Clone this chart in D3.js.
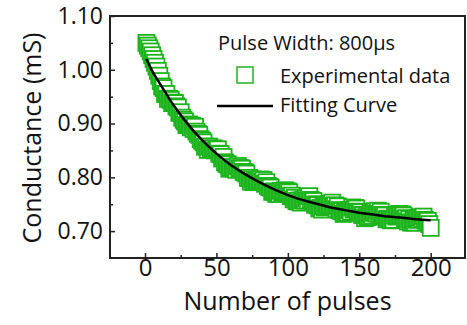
<!DOCTYPE html>
<html>
<head>
<meta charset="utf-8">
<script src="https://cdn.jsdelivr.net/npm/d3@7"></script>
<style>
  body { margin: 0; background: #fff; }
  svg text { font-family: "Open Sans", sans-serif; fill: #111; }
</style>
</head>
<body>
<div id="chart"></div>
<script>
// measured conductance (mS), one value per pulse 1..200
const conductance = [
  1.050, 1.045, 1.040, 1.034, 1.027, 1.020, 1.013, 1.006, 0.998, 0.989,
  0.979, 0.969, 0.966, 0.955, 0.955, 0.946, 0.946, 0.944, 0.938, 0.939,
  0.938, 0.932, 0.930, 0.920, 0.921, 0.911, 0.907, 0.904, 0.897, 0.898,
  0.898, 0.893, 0.896, 0.890, 0.894, 0.885, 0.881, 0.879, 0.871, 0.868,
  0.865, 0.857, 0.857, 0.851, 0.857, 0.852, 0.853, 0.854, 0.850, 0.852,
  0.852, 0.844, 0.843, 0.835, 0.838, 0.828, 0.825, 0.824, 0.816, 0.818,
  0.819, 0.816, 0.818, 0.814, 0.821, 0.817, 0.817, 0.816, 0.810, 0.809,
  0.807, 0.799, 0.799, 0.792, 0.796, 0.791, 0.793, 0.795, 0.792, 0.794,
  0.796, 0.792, 0.795, 0.788, 0.791, 0.784, 0.782, 0.781, 0.773, 0.774,
  0.772, 0.769, 0.772, 0.769, 0.775, 0.772, 0.774, 0.776, 0.773, 0.774,
  0.772, 0.765, 0.766, 0.759, 0.762, 0.756, 0.755, 0.757, 0.753, 0.757,
  0.759, 0.757, 0.761, 0.757, 0.765, 0.758, 0.756, 0.756, 0.749, 0.750,
  0.748, 0.742, 0.743, 0.740, 0.746, 0.744, 0.746, 0.749, 0.747, 0.750,
  0.753, 0.747, 0.748, 0.741, 0.746, 0.739, 0.738, 0.737, 0.732, 0.735,
  0.737, 0.734, 0.739, 0.736, 0.744, 0.740, 0.743, 0.742, 0.736, 0.736,
  0.735, 0.730, 0.730, 0.724, 0.729, 0.726, 0.728, 0.732, 0.729, 0.734,
  0.737, 0.733, 0.738, 0.732, 0.736, 0.730, 0.729, 0.729, 0.722, 0.723,
  0.722, 0.720, 0.723, 0.721, 0.729, 0.727, 0.729, 0.732, 0.730, 0.731,
  0.729, 0.723, 0.724, 0.718, 0.722, 0.716, 0.716, 0.719, 0.716, 0.721,
  0.724, 0.722, 0.726, 0.723, 0.727, 0.721, 0.719, 0.719, 0.713, 0.706
];
const pulses = d3.range(1, conductance.length + 1);

// fitting curve
const fitX = [1, 5, 10, 20, 30, 40, 50, 60, 70, 80, 90, 100, 110, 120, 130, 140, 150, 160, 170, 180, 190, 200];
const fitY = [1.020, 0.998, 0.976, 0.934, 0.899, 0.869, 0.844, 0.823, 0.806, 0.791, 0.778, 0.767, 0.758, 0.751, 0.744, 0.739, 0.734, 0.731, 0.727, 0.725, 0.722, 0.720];

const xTicks = [0, 50, 100, 150, 200];
const xMinor = [25, 75, 125, 175];
const yTicks = [0.70, 0.80, 0.90, 1.00, 1.10];
const yMinor = [0.75, 0.85, 0.95, 1.05];

const titleText = 'Pulse Width: 800\u03bcs';
const seriesNames = ['Experimental data', 'Fitting Curve'];

const green = '#1cb41c';

// set the dimensions and margins of the graph
const margin = { top: 16, right: 2, bottom: 67, left: 110 };
const width = 467 - margin.left - margin.right;
const height = 325 - margin.top - margin.bottom;

const svg = d3.select('#chart')
  .append('svg')
  .attr('width', 467)
  .attr('height', 325)
  .append('g')
  .attr('transform', 'translate(' + margin.left + ',' + margin.top + ')');

const x = d3.scaleLinear().domain([-24.5, 224]).range([0, width]);
const y = d3.scaleLinear().domain([0.65, 1.10]).range([height, 0]);

// Data squares
const sq = 16;
svg.selectAll('rect.pt')
  .data(pulses)
  .enter()
  .append('rect')
  .attr('class', 'pt')
  .attr('x', (d, i) => x(d) - sq / 2)
  .attr('y', (d, i) => y(conductance[i]) - sq / 2)
  .attr('width', sq)
  .attr('height', sq)
  .attr('fill', '#fff')
  .attr('stroke', green)
  .attr('stroke-width', 1.8);

// Fitting curve
const line = d3.line()
  .x((d, i) => x(d))
  .y((d, i) => y(fitY[i]))
  .curve(d3.curveMonotoneX);

svg.append('path')
  .attr('d', line(fitX))
  .attr('fill', 'none')
  .attr('stroke', '#000')
  .attr('stroke-width', 2.5);

// X axis
const xAxis = svg.append('g')
  .attr('transform', 'translate(0,' + height + ')')
  .call(d3.axisBottom(x).tickValues(xTicks).tickSizeInner(-5).tickSizeOuter(0).tickPadding(1));
xAxis.selectAll('text').style('font-size', '24px');

svg.append('g')
  .attr('transform', 'translate(0,' + height + ')')
  .call(d3.axisBottom(x).tickValues(xMinor).tickSizeInner(-3).tickSizeOuter(0).tickFormat(''));

// Y axis
const yAxis = svg.append('g')
  .call(d3.axisLeft(y).tickValues(yTicks).tickFormat(d3.format('.2f')).tickSizeInner(-5).tickSizeOuter(0).tickPadding(7));
yAxis.selectAll('text').style('font-size', '23px');

svg.append('g')
  .call(d3.axisLeft(y).tickValues(yMinor).tickSizeInner(-3).tickSizeOuter(0).tickFormat(''));

svg.selectAll('.domain').remove();
svg.selectAll('.tick line').attr('stroke', '#222').attr('stroke-width', 1.5);

// frame
svg.append('rect')
  .attr('x', 0)
  .attr('y', 0)
  .attr('width', width)
  .attr('height', height)
  .attr('fill', 'none')
  .attr('stroke', '#222')
  .attr('stroke-width', 2);

// axis titles
svg.append('text')
  .attr('x', (183 + 392) / 2 - margin.left)
  .attr('y', 310 - margin.top)
  .attr('text-anchor', 'middle')
  .style('font-size', '25px')
  .text('Number of pulses');

svg.append('text')
  .attr('transform', 'translate(' + (41 - margin.left) + ',' + (138 - margin.top) + ') rotate(-90)')
  .attr('text-anchor', 'middle')
  .style('font-size', '25px')
  .text('Conductance (mS)');

// legend
const legend = svg.append('g')
  .attr('transform', 'translate(' + (218 - margin.left) + ',' + (50 - margin.top) + ')');

legend.append('text')
  .attr('x', 0)
  .attr('y', 0)
  .style('font-size', '20px')
  .text(titleText);

legend.append('rect')
  .attr('x', 19)
  .attr('y', 17)
  .attr('width', sq)
  .attr('height', sq)
  .attr('fill', '#fff')
  .attr('stroke', green)
  .attr('stroke-width', 1.5);

legend.append('text')
  .attr('x', 62)
  .attr('y', 33)
  .style('font-size', '20px')
  .text(seriesNames[0]);

legend.append('line')
  .attr('x1', -1)
  .attr('x2', 55)
  .attr('y1', 56)
  .attr('y2', 56)
  .attr('stroke', '#000')
  .attr('stroke-width', 2.5);

legend.append('text')
  .attr('x', 62)
  .attr('y', 62)
  .style('font-size', '20px')
  .text(seriesNames[1]);
</script>
</body>
</html>
